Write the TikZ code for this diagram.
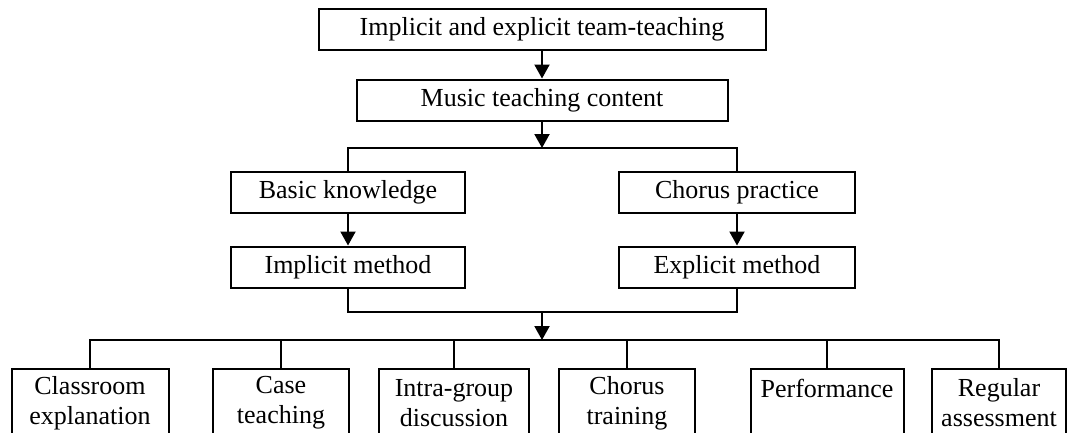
\documentclass[tikz,border=0pt]{standalone}
\usepackage{fontspec}
\setmainfont{Liberation Serif}
\usetikzlibrary{arrows.meta}
\begin{document}
\begin{tikzpicture}[x=1pt, y=-1pt, line width=2pt,
    box/.style={draw, inner sep=2pt, minimum height=41pt, font=\fontsize{26}{30}\selectfont},
    leaf/.style={draw, anchor=north, align=center, inner xsep=2pt, minimum height=68pt, font=\fontsize{26}{30}\selectfont},
    arr/.style={-{Triangle[length=14pt, width=15pt]}}]
                \useasboundingbox (0,0) rectangle (1067,432);

                \node[box, minimum width=447pt] (team) at (542,29) {Implicit and explicit team-teaching};
                \node[box, minimum width=371pt] (content) at (542,100) {Music teaching content};
                \node[box, minimum width=234pt] (basic) at (348,192) {Basic knowledge};
                \node[box, minimum width=236pt] (chorus) at (737,192) {Chorus practice};
                \node[box, minimum width=234pt] (implicit) at (348,267) {Implicit method};
                \node[box, minimum width=236pt] (explicit) at (737,267) {Explicit method};

                \node[leaf, minimum width=157pt] (m1) at (90,368) {Classroom\\explanation};
                \node[leaf, minimum width=136pt] (m2) at (281,368) {Case\\teaching};
                \node[leaf, minimum width=150pt] (m3) at (454,368) {Intra-group\\discussion};
                \node[leaf, minimum width=136pt] (m4) at (627,368) {Chorus\\training};
                \node[leaf, minimum width=153pt] (m5) at (827,368) {Performance\\\mbox{}};
                \node[leaf, minimum width=134pt] (m6) at (999,368) {Regular\\assessment};

                \coordinate (split) at (542,148);
                \coordinate (join) at (542,312);
                \coordinate (spread) at (542,340);

                \draw[arr] (team) -- (content);
                \draw[arr] (content) -- (split);
                \draw (basic.north) |- (split) -| (chorus.north);
                \draw[arr] (basic) -- (implicit);
                \draw[arr] (chorus) -- (explicit);
                \draw (implicit.south) |- (join) -| (explicit.south);
                \draw[arr] (join) -- (spread);
                \draw (m1.north) |- (spread) -| (m6.north);
                \foreach \m in {m2,m3,m4,m5}
                    \draw (\m.north) -- (\m.north |- spread);
            \end{tikzpicture}
\end{document}
